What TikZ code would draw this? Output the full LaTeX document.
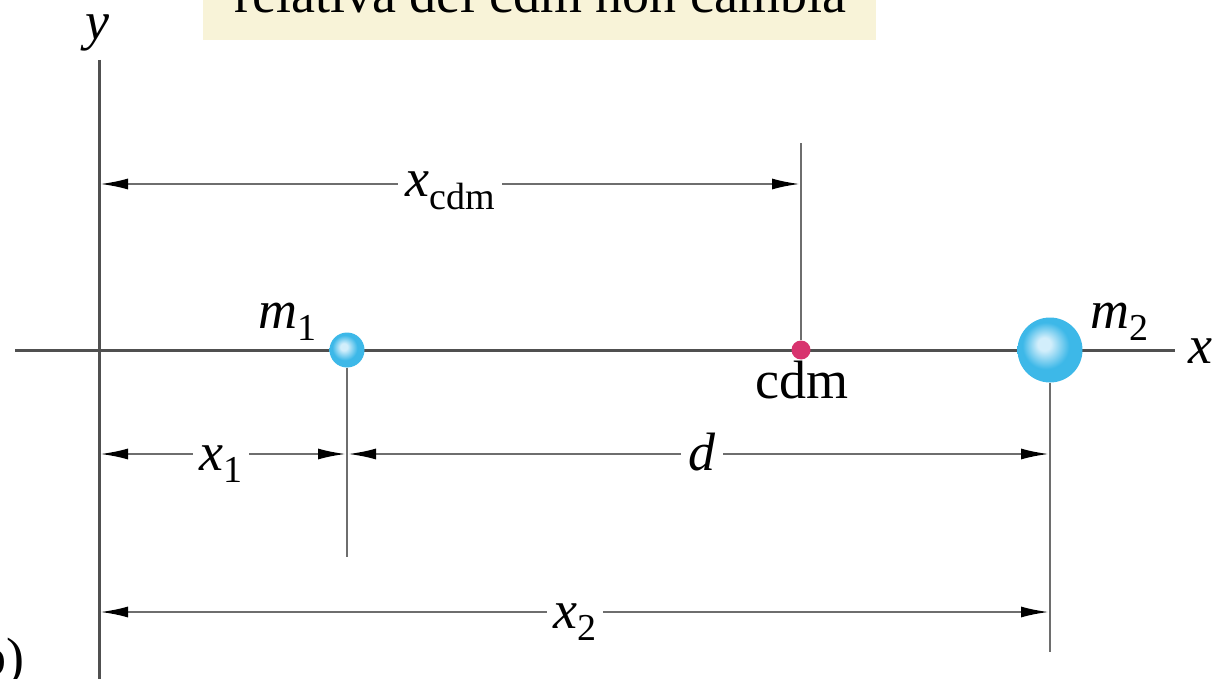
\documentclass[tikz,border=0pt]{standalone}
\usepackage{fontspec}
\setmainfont{Liberation Serif}
\usetikzlibrary{arrows.meta}
\definecolor{axisc}{HTML}{505050}
\definecolor{dimc}{HTML}{6E6E6E}
\definecolor{boxc}{HTML}{F8F3D8}
\definecolor{ballc}{HTML}{3DB8E8}
\definecolor{ballhl}{HTML}{D2EEFB}
\definecolor{cdmc}{HTML}{D8336E}
\pgfdeclareradialshading{sphereshade}{\pgfpoint{-5bp}{5bp}}{color(0bp)=(ballhl); color(5bp)=(ballhl); color(18bp)=(ballc); color(25bp)=(ballc); color(50bp)=(ballc)}
\newcommand\lsub[1]{\raisebox{-0.24em}{\fontsize{38}{40}\selectfont #1}}
\begin{document}
\begin{tikzpicture}[x=1pt,y=-1pt,font=\fontsize{54}{60}\selectfont,
  axisline/.style={line width=3pt, draw=axisc},
  extline/.style={line width=2.2pt, draw=dimc},
  dimline/.style={line width=2.2pt, draw=dimc, shorten <=1pt, shorten >=1pt,
    {Latex[length=28pt,width=11pt,color=black]}-{Latex[length=28pt,width=11pt,color=black]}},
  lab/.style={fill=white, inner xsep=7pt, inner ysep=2pt, anchor=base},
  plain/.style={inner sep=0pt, anchor=base},
  ball/.style={circle, inner sep=0pt, shading=sphereshade}]
\useasboundingbox (0,0) rectangle (1232,679);
% top box
\fill[boxc] (203,-10) rectangle (876,40);
\node[plain] (title) at (540,13) {relativa del cdm non cambia};
% axes
\coordinate (ytop) at (99,60);
\coordinate (ybot) at (99,690);
\coordinate (xl) at (15,350);
\coordinate (xr) at (1175,350);
\draw[axisline] (ytop) -- (ybot);
\draw[axisline] (xl) -- (xr);
\node[plain] (ylab) at (97,40) {\textit{y}};
\node[plain] (xlab) at (1200,363) {\textit{x}};
% masses and cdm
\node[ball, minimum size=35pt] (m1) at (347,350) {};
\node[ball, minimum size=65pt] (m2) at (1050,350) {};
\node[circle, fill=cdmc, inner sep=0pt, minimum size=19pt] (cdm) at (801,350) {};
\node[plain] (m1lab) at (287,328) {\textit{m}\lsub{1}};
\node[plain] (m2lab) at (1119,328) {\textit{m}\lsub{2}};
\node[plain] (cdmlab) at (802,398) {cdm};
% extension lines
\coordinate (cdmtop) at (801,143);
\coordinate (m1bot) at (347,557);
\coordinate (m2bot) at (1050,652);
\draw[extline] (cdm.north) -- (cdmtop);
\draw[extline] (m1.south) -- (m1bot);
\draw[extline] (m2.south) -- (m2bot);
% dimension lines
\coordinate (xcA) at (99,184);
\coordinate (xcB) at (801,184);
\coordinate (x1A) at (99,454);
\coordinate (x1B) at (347,454);
\coordinate (dB) at (1050,454);
\coordinate (x2A) at (99,612);
\coordinate (x2B) at (1050,612);
\draw[dimline] (xcA) -- (xcB);
\draw[dimline] (x1A) -- (x1B);
\draw[dimline] (x1B) -- (dB);
\draw[dimline] (x2A) -- (x2B);
\node[lab] (xclab) at (450,197) {\textit{x}\lsub{cdm}};
\node[lab] (x1lab) at (221,470) {\textit{x}\lsub{1}};
\node[lab] (dlab) at (702,470) {\textit{d}};
\node[lab] (x2lab) at (575,628) {\textit{x}\lsub{2}};
% panel label
\node[inner sep=0pt, anchor=base east] (panel) at (25,675) {b)};
\end{tikzpicture}
\end{document}
